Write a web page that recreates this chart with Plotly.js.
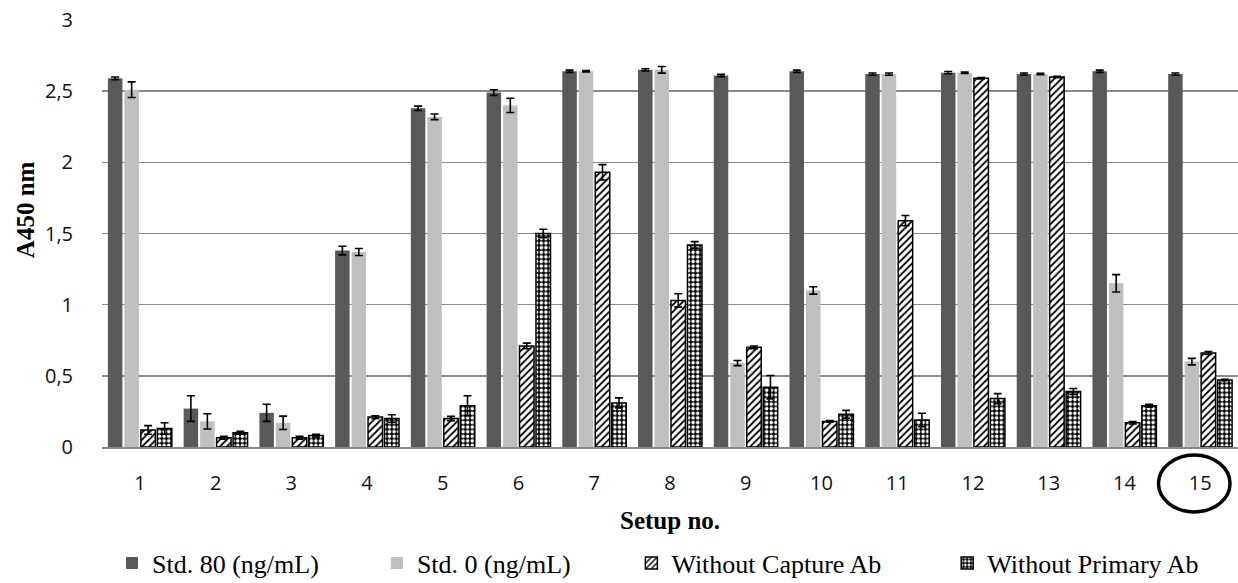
<!DOCTYPE html>
<html>
<head>
<meta charset="utf-8">
<script src="https://cdn.plot.ly/plotly-3.0.1.min.js"></script>
<style>
html,body{margin:0;padding:0;background:#fff;overflow:hidden;}
#chart{width:1238px;height:583px;}
</style>
</head>
<body>
<div id="chart"></div>
<script>
// ---- data ----
const setups = ["1","2","3","4","5","6","7","8","9","10","11","12","13","14","15"];
const std80 = [2.59, 0.27, 0.24, 1.38, 2.38, 2.49, 2.64, 2.65, 2.61, 2.64, 2.62, 2.63, 2.62, 2.64, 2.62];
const std80Err = [0.01, 0.09, 0.06, 0.03, 0.015, 0.02, 0.008, 0.008, 0.008, 0.008, 0.008, 0.008, 0.008, 0.008, 0.008];
const std0 = [2.51, 0.18, 0.17, 1.37, 2.32, 2.40, 2.64, 2.65, 0.59, 1.10, 2.62, 2.63, 2.62, 1.15, 0.60];
const std0Err = [0.055, 0.054, 0.047, 0.025, 0.02, 0.05, 0.005, 0.023, 0.018, 0.026, 0.008, 0.005, 0.005, 0.061, 0.023];
const noCapture = [0.12, 0.065, 0.065, 0.21, 0.20, 0.71, 1.93, 1.03, 0.70, 0.18, 1.59, 2.59, 2.60, 0.17, 0.66];
const noCaptureErr = [0.03, 0.01, 0.01, 0.01, 0.015, 0.02, 0.054, 0.047, 0.01, 0.005, 0.036, 0.005, 0.005, 0.008, 0.01];
const noPrimary = [0.13, 0.10, 0.08, 0.20, 0.29, 1.50, 0.31, 1.42, 0.42, 0.23, 0.19, 0.34, 0.39, 0.29, 0.47];
const noPrimaryErr = [0.04, 0.01, 0.01, 0.027, 0.07, 0.03, 0.035, 0.023, 0.082, 0.027, 0.047, 0.035, 0.021, 0.01, 0.005];
const seriesNames = ["Std. 80 (ng/mL)", "Std. 0 (ng/mL)", "Without Capture Ab", "Without Primary Ab"];
const xTitle = "Setup no.";
const yTitle = "A450 nm";

const serif = '"Liberation Serif", "Times New Roman", serif';
const sans = '"Open Sans", "Noto Sans", sans-serif';
const errStyle = (arr) => ({type:'data', array:arr, visible:true, color:'#000', thickness:1.6, width:4});
const legFont = {family:serif, size:26, color:'#000'};

const traces = [
  {type:'bar', name:seriesNames[0], x:setups, y:std80, error_y:errStyle(std80Err),
   marker:{color:'#595959', line:{width:0}}, legend:'legend'},
  {type:'bar', name:seriesNames[1], x:setups, y:std0, error_y:errStyle(std0Err),
   marker:{color:'#bfbfbf', line:{width:0}}, legend:'legend2'},
  {type:'bar', name:seriesNames[2], x:setups, y:noCapture, error_y:errStyle(noCaptureErr),
   marker:{color:'#ffffff', line:{color:'#000', width:1.5},
     pattern:{shape:'/', fgcolor:'#000', bgcolor:'#fff', size:5, solidity:0.35}}, legend:'legend3'},
  {type:'bar', name:seriesNames[3], x:setups, y:noPrimary, error_y:errStyle(noPrimaryErr),
   marker:{color:'#000000', line:{color:'#000', width:1.5},
     pattern:{shape:'.', fgcolor:'#fff', bgcolor:'#000', size:4.6, solidity:0.45}}, legend:'legend4'}
];

function leg(x){
  return {orientation:'h', x:x, xanchor:'left', y:-0.272, yanchor:'middle',
          font:legFont, bgcolor:'rgba(0,0,0,0)', itemwidth:30};
}

const layout = {
  width:1238, height:583,
  margin:{l:102, r:0, t:20, b:136, autoexpand:false},
  paper_bgcolor:'#fff', plot_bgcolor:'#fff',
  separators:', ',
  barmode:'group', bargap:0.13, bargroupgap:0.12,
  showlegend:true,
  legend:leg(0.0088), legend2:leg(0.242), legend3:leg(0.466), legend4:leg(0.744),
  xaxis:{
    type:'category', showgrid:false, zeroline:false,
    showline:true, linecolor:'#888', linewidth:1.5,
    ticks:'', ticklabelstandoff:17,
    tickfont:{family:sans, size:20, color:'#111'}
  },
  yaxis:{
    range:[0,3], dtick:0.5, tick0:0,
    showgrid:true, gridcolor:'#8a8a8a', gridwidth:1.5,
    zeroline:false, showline:false, ticks:'',
    ticklabelstandoff:28,
    tickfont:{family:sans, size:20, color:'#111'}
  },
  annotations:[
    {text:'<b>'+yTitle+'</b>', xref:'paper', yref:'paper', x:-0.0678, y:0.557,
     xanchor:'center', yanchor:'middle', textangle:-90, showarrow:false,
     font:{family:serif, size:25, color:'#000'}},
    {text:'<b>'+xTitle+'</b>', xref:'paper', yref:'paper', x:0.5, y:-0.171,
     xanchor:'center', yanchor:'middle', showarrow:false,
     font:{family:serif, size:25, color:'#000'}}
  ],
  shapes:[
    {type:'circle', xref:'paper', yref:'paper', x0:0.930, x1:0.993, y0:-0.152, y1:-0.019,
     line:{color:'#000', width:3.5}}
  ]
};

Plotly.newPlot('chart', traces, layout, {displayModeBar:false, staticPlot:true});
</script>
</body>
</html>
